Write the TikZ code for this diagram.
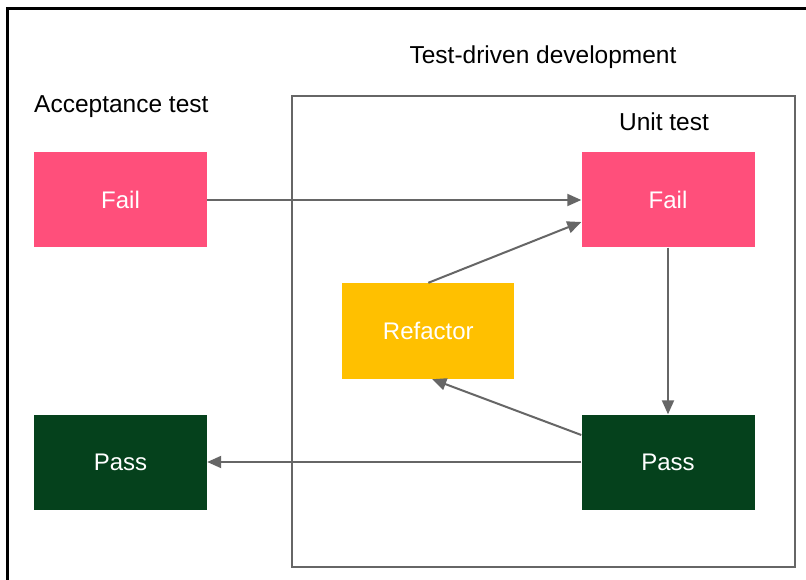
\documentclass[tikz,border=0pt]{standalone}
\usepackage{fontspec}
\setmainfont{Liberation Sans}
\usetikzlibrary{arrows.meta}
\definecolor{failpink}{HTML}{FF4F7B}
\definecolor{passgreen}{HTML}{05411C}
\definecolor{refyellow}{HTML}{FFC000}
\definecolor{linegray}{HTML}{666666}
\begin{document}
\begin{tikzpicture}[x=1pt,y=-1pt,
  box/.style={minimum width=173pt,minimum height=95pt,inner sep=0pt,text=white,font=\fontsize{24}{28}\selectfont},
  lbl/.style={inner sep=0pt,anchor=base,font=\fontsize{24.5}{28}\selectfont},
  conn/.style={draw=linegray,line width=2pt,-{Triangle[length=14pt,width=12pt]}}]
\useasboundingbox (0,0) rectangle (806,580);
\fill[white] (0,0) rectangle (806,580);
% outer frame
\draw[black,line width=3pt] (7.5,585) -- (7.5,8.5) -- (810,8.5);
% TDD box
\draw[linegray,line width=2pt] (291.5,96.5) rectangle (794.5,566.5);
% labels
\node[lbl,anchor=base west] (acc) at (34,113) {Acceptance test};
\node[lbl] (tdd) at (543,64) {Test-driven development};
\node[lbl] (unit) at (664,131) {Unit test};
% boxes
\node[box,fill=failpink] (af) at (120.5,200) {Fail};
\node[box,fill=passgreen] (ap) at (120.5,462) {Pass};
\node[box,fill=failpink] (uf) at (668,200) {Fail};
\node[box,fill=passgreen] (up) at (668,462) {Pass};
\node[box,fill=refyellow,minimum width=172pt,minimum height=96pt] (rf) at (428.3,331) {Refactor};
% connectors
\draw[conn] (af.east) -- (uf.west);
\draw[conn] (uf.south) -- (up.north);
\draw[conn] (up.west) -- (ap.east);
\draw[conn] ([yshift=27pt]up.west) -- ([xshift=4pt]rf.south);
\draw[conn] (rf.north) -- ([yshift=-22pt]uf.west);
\end{tikzpicture}
\end{document}
